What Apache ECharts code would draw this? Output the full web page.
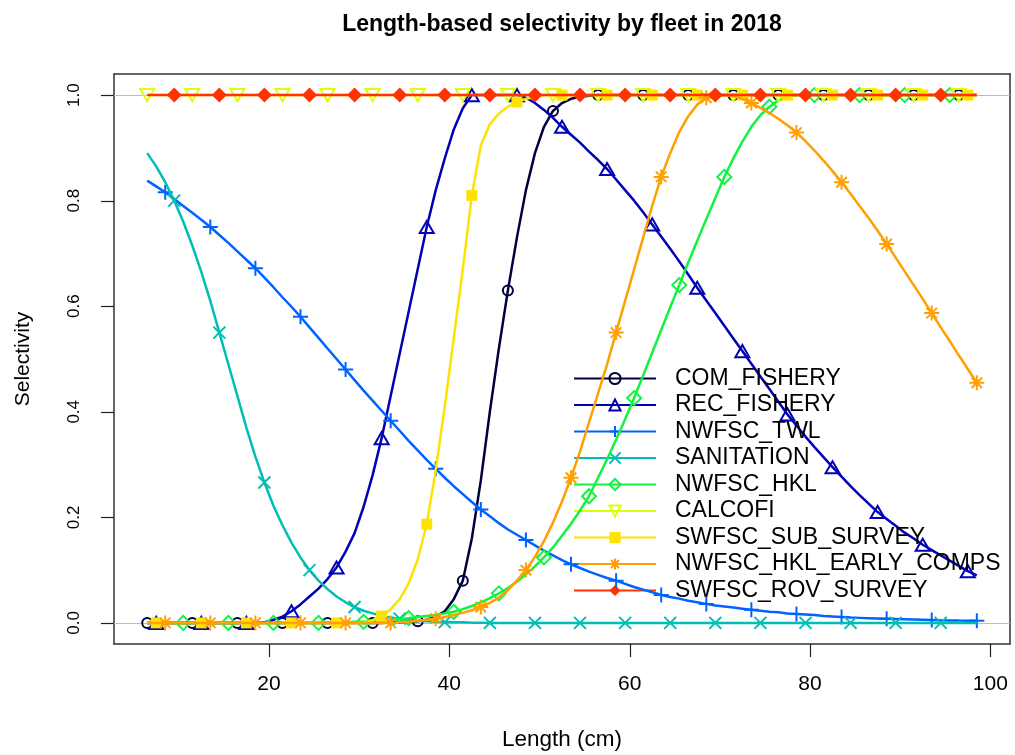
<!DOCTYPE html>
<html>
<head>
<meta charset="utf-8">
<script src="https://cdn.jsdelivr.net/npm/echarts@6/dist/echarts.min.js"></script>
<style>html,body{margin:0;padding:0;background:#fff;}#chart{width:1015px;height:755px;}</style>
</head>
<body>
<div id="chart"></div>
<script>
// Length bins (cm)
const lengthBins = [6.5,7.5,8.5,9.5,10.5,11.5,12.5,13.5,14.5,15.5,16.5,17.5,18.5,19.5,20.5,21.5,22.5,23.5,24.5,25.5,26.5,27.5,28.5,29.5,30.5,31.5,32.5,33.5,34.5,35.5,36.5,37.5,38.5,39.5,40.5,41.5,42.5,43.5,44.5,45.5,46.5,47.5,48.5,49.5,50.5,51.5,52.5,53.5,54.5,55.5,56.5,57.5,58.5,59.5,60.5,61.5,62.5,63.5,64.5,65.5,66.5,67.5,68.5,69.5,70.5,71.5,72.5,73.5,74.5,75.5,76.5,77.5,78.5,79.5,80.5,81.5,82.5,83.5,84.5,85.5,86.5,87.5,88.5,89.5,90.5,91.5,92.5,93.5,94.5,95.5,96.5,97.5,98.5];

const fleetNames = ["COM_FISHERY","REC_FISHERY","NWFSC_TWL","SANITATION","NWFSC_HKL","CALCOFI","SWFSC_SUB_SURVEY","NWFSC_HKL_EARLY_COMPS","SWFSC_ROV_SURVEY"];

const comFishery = [
0,0,0,0,0,0,0,0,0,0,
0,0,0,0,0,0,0,0,0,0,
0,0,0,0,0,0,0,0.001,0.001,0.002,
0.003,0.006,0.012,0.022,0.045,0.08,0.16,0.27,0.40,0.52,
0.63,0.73,0.82,0.89,0.94,0.97,0.985,0.993,0.997,0.999,
1,1,1,1,1,1,1,1,1,1,
1,1,1,1,1,1,1,1,1,1,
1,1,1,1,1,1,1,1,1,1,
1,1,1,1,1,1,1,1,1,1,
1,1,1];
const recFishery = [
0,0,0,0,0,0,0,0,0,0,
0,0,0,0.001,0.006,0.012,0.022,0.035,0.05,0.065,
0.083,0.105,0.135,0.17,0.22,0.28,0.35,0.43,0.51,0.59,
0.67,0.75,0.82,0.88,0.935,0.975,1,1,1,1,
1,1,0.995,0.985,0.972,0.957,0.94,0.925,0.91,0.893,
0.877,0.86,0.84,0.82,0.80,0.778,0.755,0.732,0.709,0.685,
0.66,0.635,0.611,0.587,0.563,0.539,0.515,0.491,0.467,0.443,
0.419,0.395,0.374,0.353,0.333,0.314,0.295,0.277,0.259,0.242,
0.226,0.21,0.197,0.184,0.171,0.16,0.148,0.138,0.128,0.118,
0.108,0.098,0.09];
const nwfscTwl = [
0.838,0.827,0.816,0.803,0.79,0.777,0.764,0.75,0.735,0.72,
0.704,0.688,0.672,0.654,0.636,0.617,0.599,0.58,0.56,0.54,
0.52,0.50,0.48,0.46,0.44,0.421,0.402,0.383,0.364,0.345,
0.327,0.309,0.292,0.275,0.259,0.244,0.229,0.215,0.202,0.189,
0.177,0.167,0.157,0.147,0.137,0.128,0.119,0.111,0.104,0.097,
0.091,0.085,0.08,0.074,0.068,0.063,0.058,0.053,0.049,0.046,
0.042,0.039,0.036,0.033,0.031,0.029,0.027,0.025,0.023,0.021,
0.02,0.018,0.017,0.016,0.015,0.013,0.012,0.011,0.01,0.0095,
0.009,0.0085,0.008,0.0075,0.007,0.0065,0.006,0.0055,0.005,0.0047,
0.0044,0.0042,0.004];
const sanitation = [
0.89,0.865,0.835,0.80,0.76,0.715,0.665,0.61,0.55,0.49,
0.43,0.37,0.315,0.266,0.222,0.185,0.152,0.124,0.10,0.08,
0.064,0.05,0.039,0.03,0.023,0.018,0.013,0.01,0.008,0.006,
0.004,0.003,0.002,0.0015,0.001,0.001,0.0005,0.0005,0,0,
0,0,0,0,0,0,0,0,0,0,
0,0,0,0,0,0,0,0,0,0,
0,0,0,0,0,0,0,0,0,0,
0,0,0,0,0,0,0,0,0,0,
0,0,0,0,0,0,0,0,0,0,
0,0,0];
const nwfscHkl = [
0,0,0,0,0,0,0,0,0,0,
0,0,0,0,0,0,0,0,0,0,
0.001,0.001,0.001,0.002,0.002,0.003,0.004,0.005,0.007,0.009,
0.011,0.013,0.015,0.018,0.021,0.026,0.032,0.039,0.047,0.056,
0.066,0.078,0.092,0.107,0.124,0.143,0.165,0.188,0.213,0.24,
0.275,0.31,0.347,0.386,0.426,0.469,0.512,0.555,0.598,0.64,
0.683,0.724,0.765,0.805,0.845,0.88,0.912,0.94,0.962,0.978,
0.99,0.997,1,1,1,1,1,1,1,1,
1,1,1,1,1,1,1,1,1,1,
1,1,1];
const calcofi = [
1,1,1,1,1,1,1,1,1,1,
1,1,1,1,1,1,1,1,1,1,
1,1,1,1,1,1,1,1,1,1,
1,1,1,1,1,1,1,1,1,1,
1,1,1,1,1,1,1,1,1,1,
1,1,1,1,1,1,1,1,1,1,
1,1,1,1,1,1,1,1,1,1,
1,1,1,1,1,1,1,1,1,1,
1,1,1,1,1,1,1,1,1,1,
1,1,1];
const swfscSubSurvey = [
0,0,0,0,0,0,0,0,0,0,
0,0,0,0,0,0,0,0,0,0,
0,0,0,0,0,0.005,0.013,0.026,0.045,0.075,
0.12,0.187,0.29,0.41,0.54,0.67,0.81,0.905,0.945,0.965,
0.978,0.987,0.993,0.997,1,1,1,1,1,1,
1,1,1,1,1,1,1,1,1,1,
1,1,1,1,1,1,1,1,1,1,
1,1,1,1,1,1,1,1,1,1,
1,1,1,1,1,1,1,1,1,1,
1,1,1];
const nwfscHklEarly = [
0,0,0,0,0,0,0,0,0,0,
0,0,0,0,0,0,0,0,0,0,
0,0,0,0,0,0,0,0,0.001,0.002,
0.004,0.006,0.008,0.011,0.015,0.019,0.024,0.03,0.038,0.048,
0.062,0.08,0.10,0.125,0.155,0.19,0.23,0.275,0.325,0.38,
0.435,0.49,0.55,0.61,0.67,0.73,0.79,0.845,0.89,0.93,
0.96,0.982,0.995,1,1,0.998,0.993,0.985,0.976,0.966,
0.955,0.943,0.929,0.913,0.895,0.876,0.856,0.835,0.813,0.79,
0.767,0.743,0.718,0.692,0.666,0.64,0.614,0.587,0.56,0.534,
0.507,0.481,0.455];
const swfscRovSurvey = [
1,1,1,1,1,1,1,1,1,1,
1,1,1,1,1,1,1,1,1,1,
1,1,1,1,1,1,1,1,1,1,
1,1,1,1,1,1,1,1,1,1,
1,1,1,1,1,1,1,1,1,1,
1,1,1,1,1,1,1,1,1,1,
1,1,1,1,1,1,1,1,1,1,
1,1,1,1,1,1,1,1,1,1,
1,1,1,1,1,1,1,1,1,1,
1,1,1];

const xTicks = [20,40,60,80,100];
const yTicks = [0,0.2,0.4,0.6,0.8,1.0];

const fleetValues = [comFishery,recFishery,nwfscTwl,sanitation,nwfscHkl,calcofi,swfscSubSurvey,nwfscHklEarly,swfscRovSurvey];
const fleetColors = ["#00003F","#0000B4","#0063FF","#00BEB4","#13F240","#DDFE0B","#FEE201","#FF9F00","#FF3300"];

const T = 'rgba(0,0,0,0)';
const symbolSpecs = [
  {symbol:'circle', size:10, open:true},
  {symbol:'path://M5,0L10,8.66L0,8.66Z', size:14, open:true},
  {symbol:'path://M5,0L5,10M0,5L10,5', size:15, open:true},
  {symbol:'path://M0,0L10,10M10,0L0,10', size:12, open:true},
  {symbol:'path://M5,0L10,5L5,10L0,5Z', size:14, open:true},
  {symbol:'path://M0,0L10,0L5,8.66Z', size:14, open:true},
  {symbol:'rect', size:11, open:false},
  {symbol:'path://M5,0L5,10M0,5L10,5M1.5,1.5L8.5,8.5M8.5,1.5L1.5,8.5', size:15, open:true},
  {symbol:'path://M5,0L10,5L5,10L0,5Z', size:15, open:false}
];

const FONT = '"Liberation Sans", Arial, sans-serif';
const BOX = '#333';
const X_MIN = 2.82, X_MAX = 102.18, Y_MIN = -0.04, Y_MAX = 1.04;

const series = fleetNames.map((name, i) => {
  const off = i % 5;
  const vals = fleetValues[i];
  const c = fleetColors[i];
  const sp = symbolSpecs[i];
  const data = lengthBins.map((x, k) => (k % 5 === off) ? [x, vals[k]] : {value:[x, vals[k]], symbol:'none'});
  const s = {
    name: name,
    type: 'line',
    xAxisIndex: 0, yAxisIndex: 0,
    data: data,
    symbol: sp.symbol,
    symbolSize: sp.size,
    symbolKeepAspect: true,
    showSymbol: true,
    showAllSymbol: true,
    color: c,
    lineStyle: {color: c, width: 2.5},
    itemStyle: sp.open ? {color: T, borderColor: c, borderWidth: 2} : {color: c, borderWidth: 0},
    emphasis: {disabled: true},
    z: 2 + i,
    animation: false
  };
  if (i === 0) {
    s.markLine = {
      silent: true,
      symbol: ['none','none'],
      label: {show: false},
      lineStyle: {color: '#bebebe', width: 1, type: 'solid'},
      data: [{yAxis: 0}, {yAxis: 1}],
      z: 1
    };
  }
  return s;
});

const frameAxis = {
  axisLine: {show: true, onZero: false, lineStyle: {color: BOX, width: 1.5}},
  axisTick: {show: false}, axisLabel: {show: false}, splitLine: {show: false}
};

const chart = echarts.init(document.getElementById('chart'));
chart.setOption({
  animation: false,
  backgroundColor: '#ffffff',
  textStyle: {fontFamily: FONT},
  title: {
    text: 'Length-based selectivity by fleet in 2018',
    left: 557, top: 8, textAlign: 'center',
    textStyle: {fontFamily: FONT, fontSize: 23, fontWeight: 'bold', color: '#000'}
  },
  grid: {left: 114, right: 5, top: 74, bottom: 111, containLabel: false, outerBoundsMode: 'none'},
  legend: {
    orient: 'vertical',
    left: 568, top: 362,
    itemWidth: 82, itemHeight: 14, itemGap: 3.5,
    data: fleetNames,
    selectedMode: false,
    textStyle: {fontFamily: FONT, fontSize: 23, color: '#000', padding: [0,0,0,14]}
  },
  xAxis: [{
    type: 'value', min: X_MIN, max: X_MAX, position: 'bottom',
    name: 'Length (cm)', nameLocation: 'middle', nameGap: 84,
    nameTextStyle: {fontFamily: FONT, fontSize: 22.5, color: '#000'},
    axisLine: {show: true, onZero: false, lineStyle: {color: BOX, width: 1.5}},
    splitLine: {show: false},
    axisTick: {show: false},
    axisLabel: {show: true, fontFamily: FONT, fontSize: 21, color: '#000', margin: 30, customValues: xTicks}
  }, Object.assign({type: 'value', min: X_MIN, max: X_MAX, position: 'top'}, frameAxis)],
  yAxis: [{
    type: 'value', min: Y_MIN, max: Y_MAX, position: 'left',
    name: 'Selectivity', nameLocation: 'middle', nameGap: 80, nameRotate: 90,
    nameTextStyle: {fontFamily: FONT, fontSize: 21, color: '#000'},
    axisLine: {show: true, onZero: false, lineStyle: {color: BOX, width: 1.5}},
    splitLine: {show: false},
    axisTick: {show: false},
    axisLabel: {show: true, fontFamily: FONT, fontSize: 17, color: '#000', margin: 31, rotate: 90,
      customValues: yTicks, formatter: v => v.toFixed(1)}
  }, Object.assign({type: 'value', min: Y_MIN, max: Y_MAX, position: 'right'}, frameAxis)],
  series: series
});

// Tick marks placed through the axes' own scales
const TICK = 13;
const leftPx = chart.convertToPixel({xAxisIndex: 0}, X_MIN);
const bottomPx = chart.convertToPixel({yAxisIndex: 0}, Y_MIN);
const tickEls = [];
xTicks.forEach(v => {
  const px = Math.round(chart.convertToPixel({xAxisIndex: 0}, v)) + 0.5;
  tickEls.push({type: 'line', silent: true, z: 50,
    shape: {x1: px, y1: bottomPx, x2: px, y2: bottomPx + TICK},
    style: {stroke: '#222', lineWidth: 1.2}});
});
yTicks.forEach(v => {
  const py = Math.round(chart.convertToPixel({yAxisIndex: 0}, v)) + 0.5;
  tickEls.push({type: 'line', silent: true, z: 50,
    shape: {x1: leftPx - TICK, y1: py, x2: leftPx, y2: py},
    style: {stroke: '#222', lineWidth: 1.2}});
});
chart.setOption({graphic: tickEls});
</script>
</body>
</html>
